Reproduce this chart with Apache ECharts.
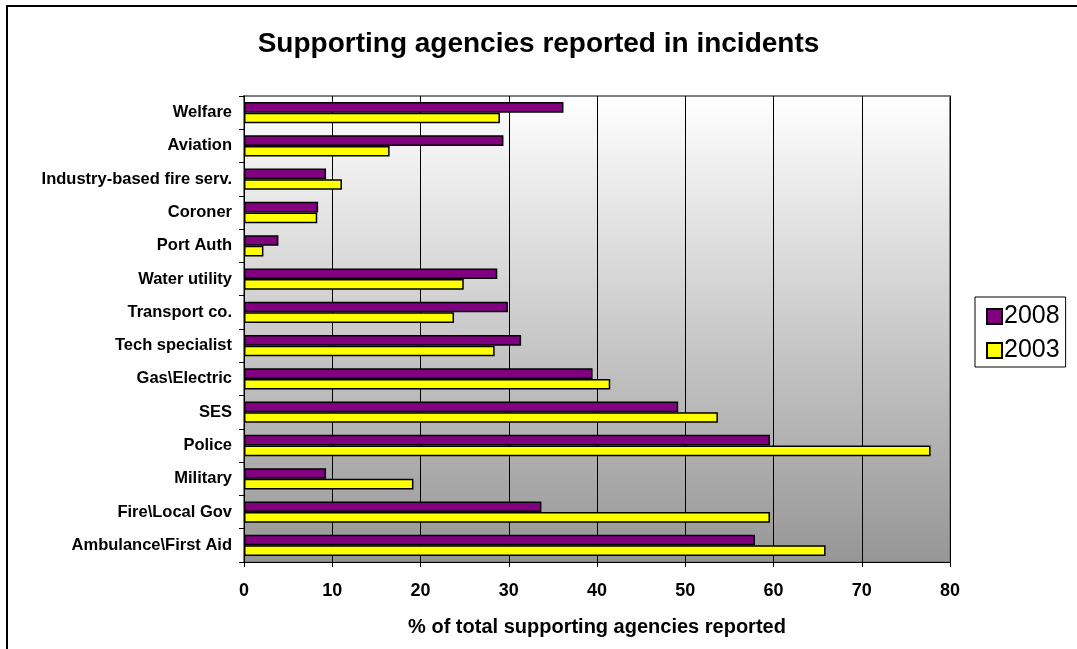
<!DOCTYPE html>
<html>
<head>
<meta charset="utf-8">
<script src="https://cdn.jsdelivr.net/npm/echarts@6/dist/echarts.min.js"></script>
<style>
html,body{margin:0;padding:0;background:#fff;}
#chart{width:1077px;height:649px;}
</style>
</head>
<body>
<div id="chart"></div>
<script>
const categories = ["Welfare","Aviation","Industry-based fire serv.","Coroner","Port Auth","Water utility","Transport co.","Tech specialist","Gas\\Electric","SES","Police","Military","Fire\\Local Gov","Ambulance\\First Aid"];
const values2008 = [36.2,29.4,9.3,8.4,3.9,28.7,29.9,31.4,39.5,49.2,59.6,9.3,33.7,57.9];
const values2003 = [29.0,16.5,11.1,8.3,2.2,24.9,23.8,28.4,41.5,53.7,77.8,19.2,59.6,65.9];
const xTicks = [0,10,20,30,40,50,60,70,80];

const FONT = '"Liberation Sans", Arial, sans-serif';
const chart = echarts.init(document.getElementById('chart'), null, {renderer:'canvas'});
chart.setOption({
  animation:false,
  backgroundColor:'#fff',
  title:{
    text:'Supporting agencies reported in incidents',
    left:'center', top:25,
    textStyle:{fontFamily:FONT,fontSize:28,fontWeight:'bold',color:'#000'}
  },
  legend:{
    orient:'vertical',
    left:975, top:297,
    padding:[7,6,4,11],
    borderColor:'#000', borderWidth:1,
    itemWidth:15, itemHeight:15, itemGap:9,
    icon:'rect',
    textStyle:{fontFamily:FONT,fontSize:25,lineHeight:25,color:'#000',padding:[0,0,0,-3]},
    data:['2008','2003']
  },
  graphic:[{
    type:'rect', silent:true, z:-1,
    shape:{x:7,y:6,width:1200,height:1000},
    style:{fill:'none',stroke:'#000',lineWidth:2}
  }],
  grid:{
    left:244, right:127, top:96, bottom:87,
    show:true,
    borderColor:'#808080', borderWidth:2,
    backgroundColor:new echarts.graphic.LinearGradient(0,0,0,1,[
      {offset:0,color:'#ffffff'},{offset:1,color:'#969696'}
    ])
  },
  xAxis:{
    type:'value', min:xTicks[0], max:xTicks[xTicks.length-1], interval:10,
    name:'% of total supporting agencies reported',
    nameLocation:'middle', nameGap:55,
    nameTextStyle:{fontFamily:FONT,fontSize:20,fontWeight:'bold',color:'#000'},
    axisLine:{show:true,lineStyle:{color:'#000',width:1}},
    axisTick:{show:true,length:5,lineStyle:{color:'#000'}},
    axisLabel:{fontFamily:FONT,fontSize:18,fontWeight:'bold',color:'#000',margin:20},
    splitLine:{show:true,lineStyle:{color:'#000',width:1}}
  },
  yAxis:{
    type:'category', data:categories, inverse:true,
    axisLine:{show:true,lineStyle:{color:'#000',width:1}},
    axisTick:{show:true,length:5,lineStyle:{color:'#000'}},
    axisLabel:{fontFamily:FONT,fontSize:16.5,fontWeight:'bold',color:'#000',margin:12}
  },
  series:[
    {name:'2008',type:'bar',data:values2008,barGap:'0%',barCategoryGap:'36%',
     itemStyle:{color:'#800080',borderColor:'#000',borderWidth:1.5}},
    {name:'2003',type:'bar',data:values2003,barGap:'0%',barCategoryGap:'36%',
     itemStyle:{color:'#ffff00',borderColor:'#000',borderWidth:1.5}}
  ]
});
</script>
</body>
</html>
